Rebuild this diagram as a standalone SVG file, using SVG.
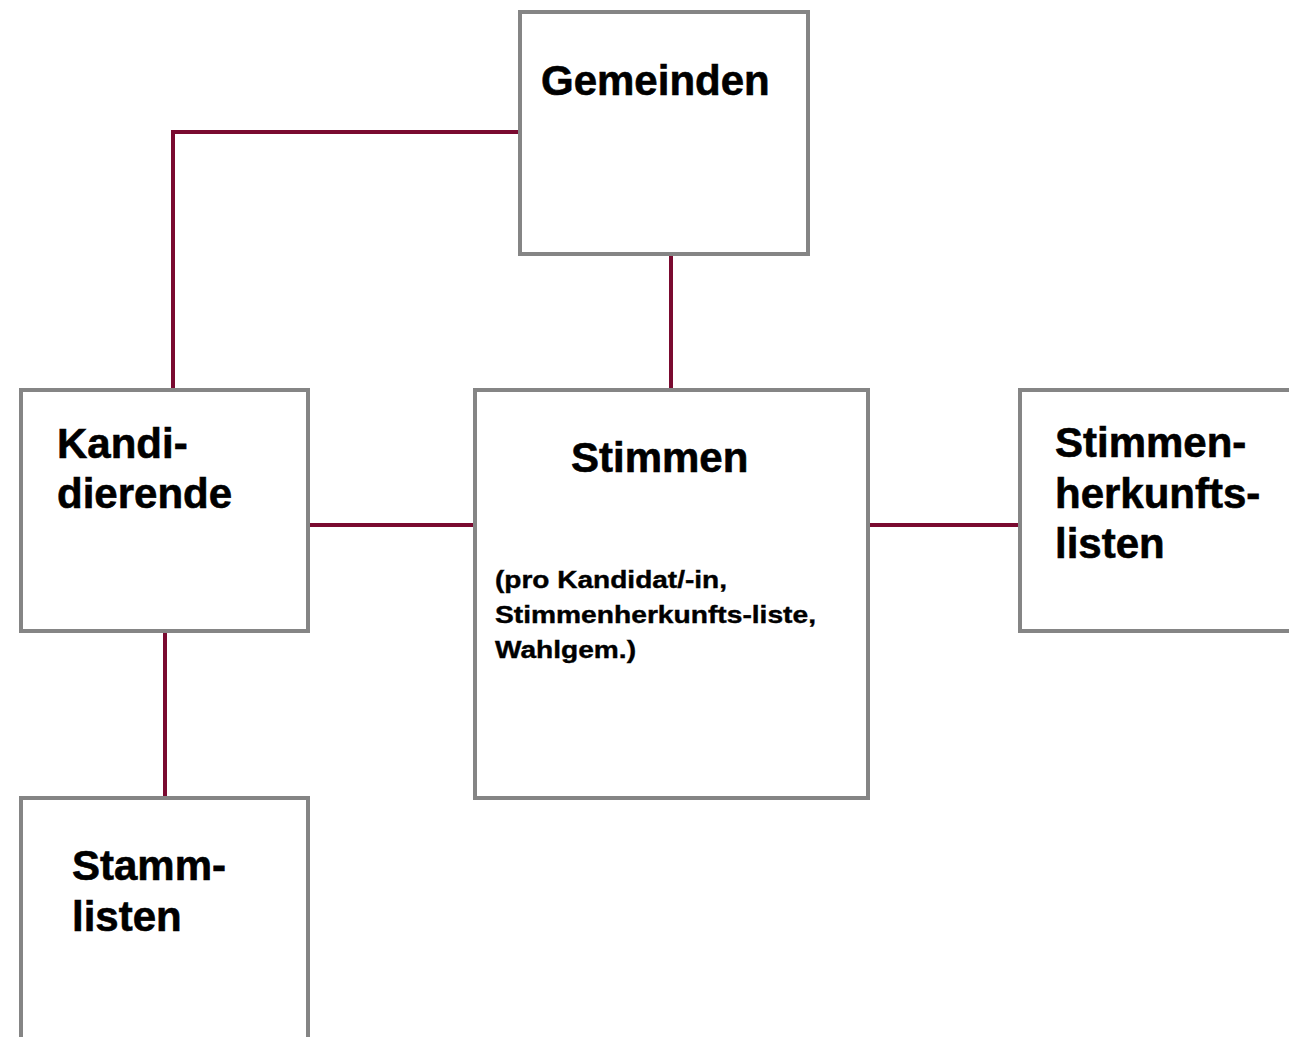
<svg xmlns="http://www.w3.org/2000/svg" width="1289" height="1037" viewBox="0 0 1289 1037">
<style>
.box{fill:#ffffff;stroke:#858585;stroke-width:4}
.conn{fill:none;stroke:#7a0a30;stroke-width:4}
.big{font-family:"Liberation Sans",Arial,sans-serif;font-weight:bold;font-size:42px;fill:#000;stroke:#000;stroke-width:0.6}
.small{font-family:"Liberation Sans",Arial,sans-serif;font-weight:bold;font-size:24px;fill:#000;stroke:#000;stroke-width:0.4}
</style>
<rect width="1289" height="1037" fill="#ffffff"/>
<g id="connectors">
<polyline class="conn" points="520,132 173,132 173,390"/>
<line class="conn" x1="671" y1="254" x2="671" y2="390"/>
<line class="conn" x1="308" y1="525" x2="475" y2="525"/>
<line class="conn" x1="867" y1="525" x2="1020" y2="525"/>
<line class="conn" x1="165" y1="631" x2="165" y2="798"/>
</g>
<g id="gemeinden">
<rect class="box" x="520" y="12" width="288" height="242"/>
<text class="big" x="541" y="95">Gemeinden</text>
</g>
<g id="kandidierende">
<rect class="box" x="21" y="390" width="287" height="241"/>
<text class="big" x="57" y="458">Kandi-</text>
<text class="big" x="57" y="508">dierende</text>
</g>
<g id="stimmen">
<rect class="box" x="475" y="390" width="393" height="408"/>
<text class="big" x="571" y="472">Stimmen</text>
<text class="small" x="495" y="588" textLength="232" lengthAdjust="spacingAndGlyphs">(pro Kandidat/-in,</text>
<text class="small" x="495" y="623" textLength="321" lengthAdjust="spacingAndGlyphs">Stimmenherkunfts-liste,</text>
<text class="small" x="495" y="658" textLength="141" lengthAdjust="spacingAndGlyphs">Wahlgem.)</text>
</g>
<g id="stimmenherkunftslisten">
<rect class="box" x="1020" y="390" width="300" height="241"/>
<text class="big" x="1055" y="457">Stimmen-</text>
<text class="big" x="1055" y="508">herkunfts-</text>
<text class="big" x="1055" y="558">listen</text>
</g>
<g id="stammlisten">
<rect class="box" x="21" y="798" width="287" height="300"/>
<text class="big" x="72" y="880">Stamm-</text>
<text class="big" x="72" y="931">listen</text>
</g>
</svg>
